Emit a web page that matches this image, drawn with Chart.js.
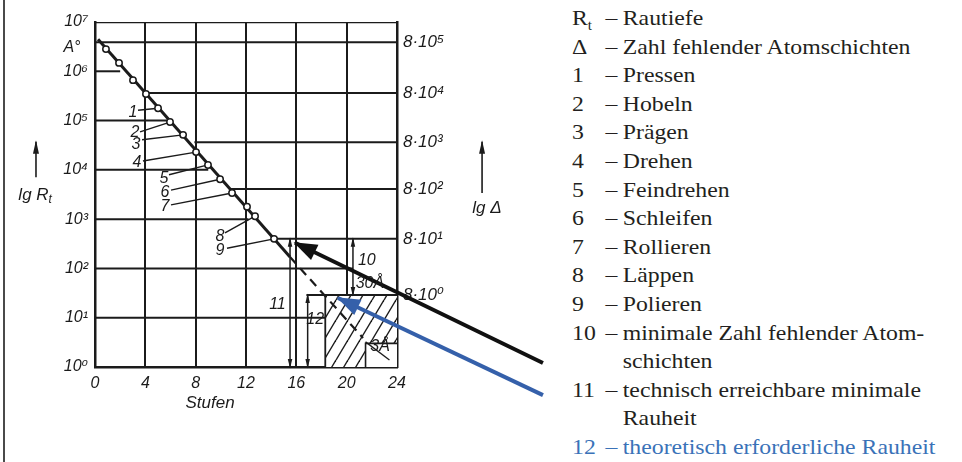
<!DOCTYPE html>
<html><head><meta charset="utf-8">
<script src="https://cdn.jsdelivr.net/npm/chart.js@4.4.1/dist/chart.umd.min.js"></script>
<style>
html,body{margin:0;padding:0;background:#fff;width:962px;height:462px;overflow:hidden;}
#frame{position:absolute;left:3px;top:0;width:2px;height:462px;background:#4a4a4a;}
#c{position:absolute;left:0;top:0;}
#legend{position:absolute;left:572px;top:4px;font-family:"Liberation Serif","Times New Roman",serif;font-size:22px;line-height:28.6px;color:#231f20;transform:scaleX(1.08);transform-origin:0 0;white-space:nowrap;}
.row{position:relative;height:28.6px;}
.num{position:absolute;left:0;}
.dash{position:absolute;left:31px;}
.txt{position:absolute;left:47px;}
.blue{color:#3a72b8;}
sub{font-size:14px;vertical-align:-5px;line-height:0;}
</style></head>
<body>
<div id="frame"></div>
<canvas id="c" width="560" height="462"></canvas>
<div id="legend"></div>
<script>
// ---------- data (x: Stufen, y: lg Rt in Å) ----------
const stufenTicks = [0, 4, 8, 12, 16, 20, 24];
const rtDecades = [0, 1, 2, 3, 4, 5, 6, 7];
const deltaLabels = ['8·10⁰', '8·10¹', '8·10²', '8·10³', '8·10⁴', '8·10⁵'];
const deltaAtLgRt = [1.46, 2.60, 3.61, 4.56, 5.56, 6.59];
const deltaLineFromStufe = [16.8, 14.23, 10.7, 7.9, 3.9, 0];
const rtDecadeLineToStufe = [null, 18.3, 20.5, 12.2, 9.0, 6.0, 2.0];

const curveStufen = [0.87, 1.91, 3.02, 4.05, 5.01, 5.96, 7.0, 8.03, 8.98, 9.94, 10.89, 12.08, 12.72, 14.23];
const curveLgRt   = [6.45, 6.17, 5.82, 5.54, 5.25, 4.97, 4.71, 4.36, 4.10, 3.81, 3.53, 3.25, 3.06, 2.60];
const trendSolidStufen = [0.24, 15.5];
const trendSolidLgRt = [6.65, 2.23];
const trendDashStufen = [15.5, 21.3];
const trendDashLgRt = [2.23, 0.59];

const processNumbers = ['1', '2', '3', '4', '5', '6', '7', '8', '9'];
const processStufen = [5.01, 5.96, 7.0, 8.03, 8.98, 9.94, 10.89, 12.72, 14.23];
const processLgRt   = [5.25, 4.97, 4.71, 4.36, 4.10, 3.81, 3.53, 3.06, 2.60];

const limitTechnicalLgRt = 2.60;   // 11
const limitTheoreticalLgRt = 1.46; // 12 (30 Å)
const atomLayerLgRt = 0.48;        // 3 Å
const hatchFromStufe = 18.3;
const atomBoxFromStufe = 21.5;

const legendKeys = ['R<sub>t</sub>', 'Δ', '1', '2', '3', '4', '5', '6', '7', '8', '9', '10', '', '11', '', '12'];
const legendTexts = ['Rautiefe', 'Zahl fehlender Atomschichten', 'Pressen', 'Hobeln', 'Prägen', 'Drehen',
  'Feindrehen', 'Schleifen', 'Rollieren', 'Läppen', 'Polieren', 'minimale Zahl fehlender Atom-', 'schichten',
  'technisch erreichbare minimale', 'Rauheit', 'theoretisch erforderliche Rauheit'];

// ---------- layout / annotation config ----------
const labelAnchors = [[3.02,5.17],[3.18,4.75],[3.26,4.52],[3.34,4.14],[5.48,3.83],[5.56,3.53],[5.56,3.25],[9.93,2.64],[9.93,2.37]];
const leaderStarts = [[3.42,5.21],[3.58,4.77],[3.74,4.61],[3.81,4.18],[5.88,3.90],[6.04,3.59],[6.04,3.29],[10.33,2.72],[10.49,2.41]];
const texts = [
  {t:'A°', x:-1.83, y:6.49},
  {t:'10', x:21.6, y:2.17},
  {t:'30Å', x:21.85, y:1.70},
  {t:'11', x:14.5, y:1.26},
  {t:'12', x:17.5, y:0.97},
  {t:'3Å', x:22.65, y:0.41},
  {t:'Stufen', x:9.14, y:-0.73, size:17},
  {t:'lg Δ', x:31.15, y:3.23, size:17}
];

// legend
const lg = document.getElementById('legend');
legendKeys.forEach((k, i) => {
  const r = document.createElement('div');
  r.className = 'row' + (i === legendKeys.length - 1 ? ' blue' : '');
  r.innerHTML = (k !== '' ? '<span class="num">' + k + '</span><span class="dash">–</span>' : '') +
    '<span class="txt">' + legendTexts[i] + '</span>';
  lg.appendChild(r);
});

const INK = '#1b1b1b';
const FONT = '"Liberation Sans", "DejaVu Sans", sans-serif';
const SUP = {'0':'⁰','1':'¹','2':'²','3':'³','4':'⁴','5':'⁵','6':'⁶','7':'⁷','8':'⁸','9':'⁹'};

const datasets = [];
function seg(x1, y1, x2, y2) { return [{x:x1, y:y1}, {x:x2, y:y2}]; }
function addLine(data, opts) {
  datasets.push(Object.assign({type:'line', data, borderColor:INK, borderWidth:2, pointRadius:0,
    fill:false, tension:0, order:0}, opts || {}));
}

function hatchPattern() {
  const c = document.createElement('canvas'); c.width = 12; c.height = 20;
  const g = c.getContext('2d');
  g.fillStyle = '#fff'; g.fillRect(0, 0, 12, 20);
  g.strokeStyle = INK; g.lineWidth = 1.4;
  for (const o of [-12, 0, 12]) { g.beginPath(); g.moveTo(o, 20); g.lineTo(o + 12, 0); g.stroke(); }
  return g.createPattern(c, 'repeat');
}

// frame top
addLine(seg(0, 7, 24, 7), {borderWidth:2.5});
// Rt decade lines (left scale)
for (let d = 1; d <= 6; d++) addLine(seg(0, rtDecades[d], rtDecadeLineToStufe[d], rtDecades[d]));
// Delta lines (right scale)
deltaAtLgRt.forEach((v, i) => addLine(seg(deltaLineFromStufe[i], v, 24, v)));
// trend line
addLine(seg(trendSolidStufen[0], trendSolidLgRt[0], trendSolidStufen[1], trendSolidLgRt[1]), {borderWidth:3});
addLine(seg(trendDashStufen[0], trendDashLgRt[0], trendDashStufen[1], trendDashLgRt[1]), {borderWidth:2.2, borderDash:[9,6]});
// measured circles
datasets.push({type:'line', showLine:false, data: curveStufen.map((s, i) => ({x:s, y:curveLgRt[i]})),
  pointRadius:3.2, pointBackgroundColor:'#fff', pointBorderColor:INK, pointBorderWidth:1.5, order:-1});
// leaders
processStufen.forEach((s, i) => addLine(seg(leaderStarts[i][0], leaderStarts[i][1], s, processLgRt[i]), {borderWidth:1.4}));
// hatched theoretical region (monotonic path, filled down to 0)
addLine([{x:hatchFromStufe,y:0},{x:hatchFromStufe,y:limitTheoreticalLgRt},{x:24,y:limitTheoreticalLgRt}],
  {borderWidth:1.8, fill:'origin', backgroundColor:hatchPattern(), order:10});
// 3 Å box
addLine([{x:atomBoxFromStufe,y:0},{x:atomBoxFromStufe,y:atomLayerLgRt},{x:24,y:atomLayerLgRt}],
  {borderWidth:1.6, fill:'origin', backgroundColor:'#fff', order:9});
addLine(seg(21.5, 0.51, 23.4, 0.14), {borderWidth:1.3, order:-1});
// dimension lines
const dimHead = {arrows:['start','end'], headLen:8, headWidth:4.5, borderWidth:1.5};
addLine(seg(15.5, 0, 15.5, limitTechnicalLgRt), dimHead);
addLine(seg(16.9, 0, 16.9, limitTheoreticalLgRt), dimHead);
addLine(seg(20.5, limitTheoreticalLgRt, 20.5, limitTechnicalLgRt), dimHead);
// axis-title arrows
addLine(seg(-4.69, 3.85, -4.69, 4.57), {arrows:['end'], headLen:12, headWidth:6, borderWidth:1.6, clip:false});
addLine(seg(30.76, 3.53, 30.76, 4.57), {arrows:['end'], headLen:12, headWidth:6, borderWidth:1.6, clip:false});
// pointer arrows
addLine(seg(35.6, 0.08, 15.89, limitTechnicalLgRt - 0.08), {arrows:['end'], headLen:22, headWidth:17, borderWidth:4, clip:false, order:-2, borderColor:'#111'});
addLine(seg(35.6, -0.57, 19.31, limitTheoreticalLgRt - 0.06), {arrows:['end'], headLen:22, headWidth:17, borderWidth:4, clip:false, order:-2, borderColor:'#3560aa'});

const arrowPlugin = {
  id: 'arrowheads',
  afterDatasetsDraw(chart) {
    const ctx = chart.ctx;
    chart.data.datasets.forEach((ds, i) => {
      if (!ds.arrows) return;
      const pts = chart.getDatasetMeta(i).data;
      ds.arrows.forEach(end => {
        const a = end === 'end' ? pts[pts.length - 2] : pts[1];
        const b = end === 'end' ? pts[pts.length - 1] : pts[0];
        const ang = Math.atan2(b.y - a.y, b.x - a.x);
        const L = ds.headLen, W = ds.headWidth / 2;
        const bx = b.x - L * Math.cos(ang), by = b.y - L * Math.sin(ang);
        ctx.save();
        ctx.fillStyle = ds.borderColor;
        ctx.beginPath();
        ctx.moveTo(b.x + 1.5 * Math.cos(ang), b.y + 1.5 * Math.sin(ang));
        ctx.lineTo(bx + W * Math.sin(ang), by - W * Math.cos(ang));
        ctx.lineTo(bx - W * Math.sin(ang), by + W * Math.cos(ang));
        ctx.closePath(); ctx.fill();
        ctx.restore();
      });
    });
  }
};

const textPlugin = {
  id: 'texts',
  afterDraw(chart) {
    const ctx = chart.ctx, xs = chart.scales.x, ys = chart.scales.y;
    ctx.save();
    ctx.fillStyle = INK; ctx.textBaseline = 'middle'; ctx.textAlign = 'center';
    const put = (t, x, y, size) => {
      ctx.font = 'italic ' + (size || 16) + 'px ' + FONT;
      ctx.fillText(t, xs.getPixelForValue(x), ys.getPixelForValue(y));
    };
    texts.forEach(o => put(o.t, o.x, o.y, o.size));
    processNumbers.forEach((n, i) => put(n, labelAnchors[i][0], labelAnchors[i][1]));
    // lg R_t
    const px = xs.getPixelForValue(-4.69), py = ys.getPixelForValue(3.49);
    ctx.font = 'italic 17px ' + FONT;
    const w1 = ctx.measureText('lg R').width;
    ctx.textAlign = 'left';
    ctx.fillText('lg R', px - (w1 + 5) / 2, py);
    ctx.font = 'italic 12px ' + FONT;
    ctx.fillText('t', px - (w1 + 5) / 2 + w1, py + 5);
    ctx.restore();
  }
};

new Chart(document.getElementById('c'), {
  type: 'line',
  data: { datasets },
  plugins: [arrowPlugin, textPlugin],
  options: {
    responsive: false, animation: false,
    layout: { padding: { left: 0, top: 22, right: 103, bottom: 0 } },
    plugins: { legend: { display: false }, tooltip: { enabled: false } },
    font: { family: FONT },
    scales: {
      x: {
        type: 'linear', min: stufenTicks[0], max: stufenTicks[stufenTicks.length - 1], position: 'bottom',
        afterFit: s => { s.height = 95; },
        afterBuildTicks: s => { s.ticks = stufenTicks.map(v => ({value: v})); },
        ticks: { autoSkip: false, maxRotation: 0, padding: 7, color: INK,
          font: { family: FONT, style: 'italic', size: 16 } },
        grid: { color: INK, lineWidth: 2, drawTicks: false },
        border: { color: INK, width: 2.5 }
      },
      y: {
        type: 'linear', min: rtDecades[0], max: rtDecades[rtDecades.length - 1], position: 'left',
        afterFit: s => { s.width = 95; },
        afterBuildTicks: s => { s.ticks = rtDecades.map(v => ({value: v})); },
        ticks: { autoSkip: false, padding: 7, color: INK, font: { family: FONT, style: 'italic', size: 16 },
          callback: v => '10' + SUP[String(v)] },
        grid: { display: false, drawTicks: false },
        border: { color: INK, width: 2.5 }
      },
      y2: {
        type: 'linear', min: rtDecades[0], max: rtDecades[rtDecades.length - 1], position: 'right',
        afterFit: s => { s.width = 60; },
        afterBuildTicks: s => { s.ticks = deltaAtLgRt.map(v => ({value: v})); },
        ticks: { autoSkip: false, padding: 6, color: INK, font: { family: FONT, style: 'italic', size: 17 },
          callback: (v, i) => deltaLabels[i] },
        grid: { display: false, drawTicks: false },
        border: { color: INK, width: 2.5 }
      }
    }
  }
});
</script>
</body></html>
